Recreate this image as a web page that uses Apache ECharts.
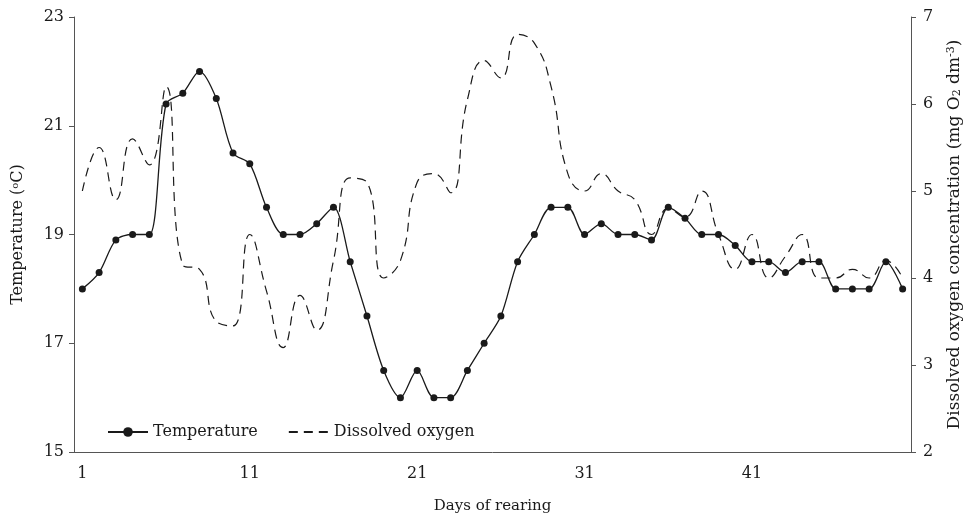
<!DOCTYPE html>
<html>
<head>
<meta charset="utf-8">
<script src="https://cdn.jsdelivr.net/npm/echarts@6/dist/echarts.min.js"></script>
<style>
html, body { margin: 0; padding: 0; background: #fff; }
#chart { width: 964px; height: 525px; }
</style>
</head>
<body>
<div id="chart"></div>
<script>
// days of rearing
var days = [1, 2, 3, 4, 5, 6, 7, 8, 9, 10,
  11, 12, 13, 14, 15, 16, 17, 18, 19, 20,
  21, 22, 23, 24, 25, 26, 27, 28, 29, 30,
  31, 32, 33, 34, 35, 36, 37, 38, 39, 40,
  41, 42, 43, 44, 45, 46, 47, 48, 49, 50];

// water temperature, °C
var temperature = [18.0, 18.3, 18.9, 19.0, 19.0, 21.4, 21.6, 22.0, 21.5, 20.5,
  20.3, 19.5, 19.0, 19.0, 19.2, 19.5, 18.5, 17.5, 16.5, 16.0,
  16.5, 16.0, 16.0, 16.5, 17.0, 17.5, 18.5, 19.0, 19.5, 19.5,
  19.0, 19.2, 19.0, 19.0, 18.9, 19.5, 19.3, 19.0, 19.0, 18.8,
  18.5, 18.5, 18.3, 18.5, 18.5, 18.0, 18.0, 18.0, 18.5, 18.0];

// dissolved oxygen, mg O2 dm-3
var oxygen = [5.0, 5.5, 4.9, 5.6, 5.3, 6.2, 4.15, 4.1, 3.5, 3.45,
  4.5, 3.85, 3.2, 3.8, 3.4, 4.2, 5.15, 5.1, 4.0, 4.2,
  5.1, 5.2, 4.98, 6.05, 6.5, 6.3, 6.8, 6.7, 6.2, 5.2,
  5.0, 5.2, 5.0, 4.9, 4.5, 4.8, 4.7, 5.0, 4.5, 4.1,
  4.5, 4.0, 4.25, 4.5, 4.0, 4.0, 4.1, 4.0, 4.2, 4.0];

var font = 'DejaVu Serif';
var ink = '#1a1a1a';
var axisColor = '#555';

var chart = echarts.init(document.getElementById('chart'));
chart.setOption({
  animation: false,
  textStyle: { fontFamily: font, color: ink },
  grid: { left: 74, right: 53, top: 17, bottom: 73, outerBoundsMode: 'none', containLabel: false },
  legend: {
    left: 102,
    top: 419,
    itemWidth: 40,
    itemHeight: 12,
    itemGap: 30,
    textStyle: { fontFamily: font, fontSize: 16, color: ink },
    data: [
      'Temperature',
      { name: 'Dissolved oxygen', itemStyle: { color: 'rgba(0,0,0,0)', borderWidth: 0 } }
    ]
  },
  xAxis: {
    type: 'category',
    data: days,
    boundaryGap: true,
    name: 'Days of rearing',
    nameLocation: 'middle',
    nameGap: 47,
    nameTextStyle: { fontFamily: font, fontSize: 15, color: ink },
    axisLine: { lineStyle: { color: axisColor, width: 1 } },
    axisTick: { interval: 4, length: 5, lineStyle: { color: axisColor } },
    axisLabel: { interval: 9, margin: 14, fontFamily: font, fontSize: 16, color: ink }
  },
  yAxis: [
    {
      type: 'value',
      min: 15,
      max: 23,
      interval: 2,
      name: '{t|Temperature (}{s|o}{t|C)}',
      nameLocation: 'middle',
      nameGap: 48,
      nameRotate: 90,
      nameTextStyle: {
        rich: {
          t: { fontFamily: font, fontSize: 16, color: ink },
          s: { fontFamily: font, fontSize: 10, color: ink, verticalAlign: 'top', padding: [0, 0, 6, 0] }
        }
      },
      axisLine: { show: true, lineStyle: { color: axisColor, width: 1 } },
      axisTick: { show: true, length: 5, lineStyle: { color: axisColor } },
      splitLine: { show: false },
      axisLabel: { margin: 10, fontFamily: font, fontSize: 16, color: ink }
    },
    {
      type: 'value',
      min: 2,
      max: 7,
      interval: 1,
      position: 'right',
      name: '{t|Dissolved oxygen concentration (mg O}{b|2}{t| dm}{s|-3}{t|)}',
      nameLocation: 'middle',
      nameGap: 35,
      nameRotate: 90,
      nameTextStyle: {
        rich: {
          t: { fontFamily: font, fontSize: 17, color: ink },
          s: { fontFamily: font, fontSize: 11, color: ink, verticalAlign: 'top', padding: [0, 0, 6, 0] },
          b: { fontFamily: font, fontSize: 11, color: ink, verticalAlign: 'bottom', padding: [6, 0, 0, 0] }
        }
      },
      axisLine: { show: true, lineStyle: { color: axisColor, width: 1 } },
      axisTick: { show: true, length: 5, lineStyle: { color: axisColor } },
      splitLine: { show: false },
      axisLabel: { margin: 12, fontFamily: font, fontSize: 16, color: ink }
    }
  ],
  series: [
    {
      name: 'Temperature',
      type: 'line',
      yAxisIndex: 0,
      data: temperature,
      smooth: 0.3,
      symbol: 'circle',
      symbolSize: 7,
      lineStyle: { color: ink, width: 1.3 },
      itemStyle: { color: ink },
      z: 3
    },
    {
      name: 'Dissolved oxygen',
      type: 'line',
      yAxisIndex: 1,
      data: oxygen,
      smooth: 0.5,
      symbol: 'none',
      lineStyle: { color: ink, width: 1.2, type: [9, 6] },
      itemStyle: { color: ink },
      z: 2
    }
  ]
});
</script>
</body>
</html>
